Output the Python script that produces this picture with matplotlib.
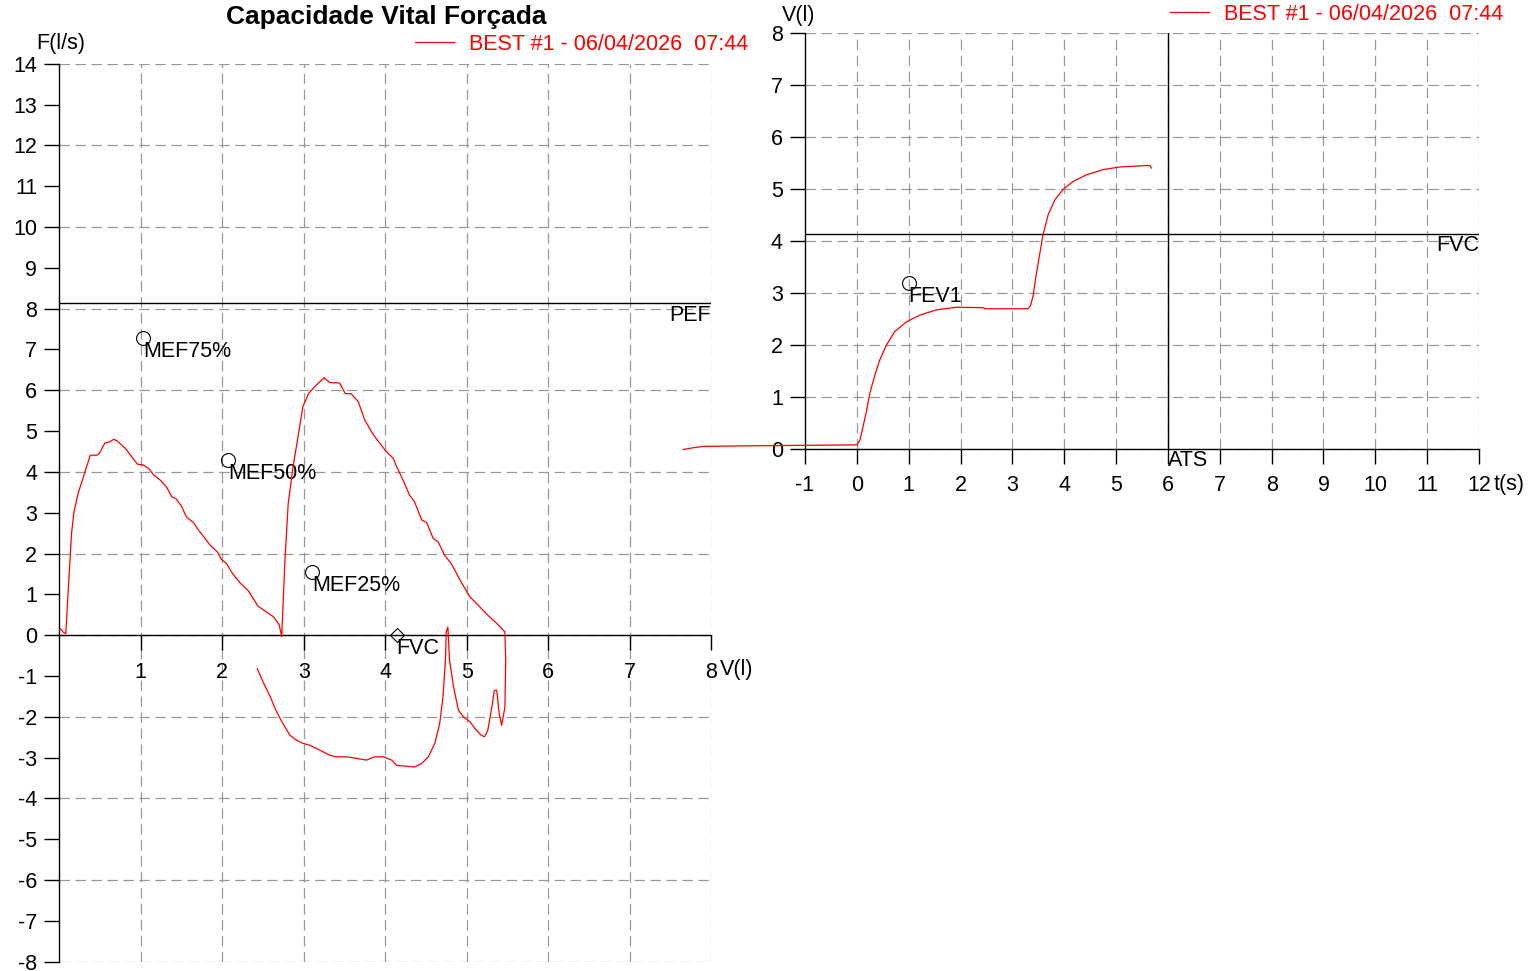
import numpy as np
import matplotlib
matplotlib.use("Agg")
import matplotlib.pyplot as plt
from matplotlib.lines import Line2D

plt.rcParams["font.family"] = ["Liberation Sans", "DejaVu Sans"]
plt.rcParams["lines.scale_dashes"] = False
plt.rcParams["axes.unicode_minus"] = False

W, H = 1535, 971

# flow-volume loop (left chart)
fv_volume = [0, 0.02, 0.05, 0.08, 0.11, 0.15, 0.18, 0.23, 0.29, 0.38, 0.46, 0.49, 0.56, 0.62, 0.67,
             0.71, 0.81, 0.89, 0.96, 1.03, 1.10, 1.16, 1.24, 1.32, 1.38, 1.43, 1.50, 1.56, 1.65, 1.71,
             1.79, 1.85, 1.94, 1.99, 2.05, 2.13, 2.22, 2.32, 2.38, 2.44, 2.52, 2.63, 2.70, 2.73,
             2.77, 2.81, 2.87, 2.93, 2.99, 3.06, 3.14, 3.20, 3.25, 3.32, 3.44, 3.51, 3.58, 3.67, 3.75,
             3.85, 4.00, 4.10, 4.14, 4.22, 4.30, 4.36, 4.45, 4.51, 4.59, 4.65, 4.73, 4.81, 4.92, 5.04,
             5.14, 5.26, 5.37, 5.47,
             5.48, 5.47, 5.43, 5.40, 5.37, 5.34, 5.31, 5.26, 5.22, 5.18, 5.12, 5.04, 4.96, 4.90, 4.84,
             4.79, 4.77, 4.75, 4.74, 4.71, 4.67, 4.61, 4.53, 4.45, 4.36, 4.26, 4.14, 4.08, 3.98, 3.87,
             3.77, 3.65, 3.53, 3.40, 3.32, 3.20, 3.08, 2.99, 2.91, 2.83, 2.77, 2.71, 2.65, 2.59, 2.50, 2.43]
fv_flow = [0.12, 0.15, 0.07, 0.04, 1.1, 2.49, 3.02, 3.47, 3.84, 4.41, 4.41, 4.45, 4.71, 4.74, 4.80,
           4.76, 4.58, 4.37, 4.19, 4.17, 4.08, 3.92, 3.80, 3.62, 3.39, 3.35, 3.16, 2.90, 2.75, 2.57,
           2.37, 2.21, 2.04, 1.86, 1.76, 1.50, 1.28, 1.09, 0.90, 0.71, 0.60, 0.45, 0.25, -0.04,
           1.84, 3.23, 4.13, 4.86, 5.60, 5.92, 6.10, 6.21, 6.31, 6.19, 6.18, 5.92, 5.92, 5.72, 5.27,
           4.93, 4.53, 4.33, 4.13, 3.80, 3.43, 3.27, 2.82, 2.76, 2.37, 2.29, 1.96, 1.76, 1.35, 0.94,
           0.74, 0.49, 0.29, 0.08,
           -0.61, -1.76, -2.21, -1.92, -1.35, -1.35, -1.76, -2.33, -2.49, -2.45, -2.33, -2.12, -2.0, -1.84, -1.27,
           -0.61, 0.20, 0.08, -0.61, -1.51, -2.16, -2.65, -2.98, -3.14, -3.23, -3.21, -3.19, -3.06, -2.98, -2.98,
           -3.06, -3.02, -2.98, -2.98, -2.94, -2.82, -2.70, -2.65, -2.57, -2.45, -2.25, -2.04, -1.80, -1.51, -1.14, -0.82]

# volume-time curve (right chart)
vt_time = [-3.35, -3.12, -2.96, -2.19, 0.0, 0.06, 0.12, 0.19, 0.25, 0.35, 0.44, 0.57, 0.73, 0.96,
           1.22, 1.54, 1.93, 2.44, 2.47, 3.30, 3.35, 3.40, 3.45, 3.52, 3.59, 3.69, 3.82, 3.98,
           4.17, 4.43, 4.75, 5.07, 5.46, 5.65, 5.68]
vt_volume = [-0.01, 0.03, 0.05, 0.06, 0.08, 0.17, 0.43, 0.75, 1.07, 1.43, 1.71, 2.00, 2.26, 2.45,
             2.58, 2.68, 2.73, 2.72, 2.70, 2.70, 2.76, 2.95, 3.30, 3.71, 4.12, 4.51, 4.80, 5.00,
             5.15, 5.28, 5.38, 5.43, 5.45, 5.46, 5.41]

# reference markers
mef_labels = ["MEF75%", "MEF50%", "MEF25%"]
mef_volume = [1.03, 2.07, 3.10]
mef_flow = [7.28, 4.29, 1.54]
pef = 8.15
fvc = 4.14
fev1 = (1.0, 3.2)
ats = 6

legend_label = "BEST #1 - 06/04/2026  07:44"
FS = 15.5
GRID = dict(color="#999999", lw=0.9, dashes=(7.5, 4), zorder=0)


def frac(x, y):
    return x / W, 1 - y / H


def style_axes(ax):
    for s in ("top", "right"):
        ax.spines[s].set_visible(False)
    ax.spines["bottom"].set_position(("data", 0))
    for s in ("left", "bottom"):
        ax.spines[s].set_linewidth(1)
        ax.spines[s].set_color("black")
        ax.spines[s].set_zorder(3)
    ax.tick_params(direction="out", length=10.5, width=1, labelsize=FS, color="black")
    ax.tick_params(axis="x", pad=8.5)
    ax.tick_params(axis="y", pad=5.5)
    ax.patch.set_alpha(0)


fig = plt.figure(figsize=(W / 100, H / 100), dpi=100)

# ---- left: flow-volume
ax1 = fig.add_axes([59.3 / W, 1 - 961.7 / H, (711 - 59.3) / W, (961.7 - 63.8) / H])
ax1.set_xlim(0, 8)
ax1.set_ylim(-8, 14)
style_axes(ax1)
ax1.set_xticks(range(1, 9))
ax1.set_yticks(range(-8, 15))
for v in range(1, 9):
    ax1.axvline(v, **GRID)
for f in range(-8, 15, 2):
    ax1.axhline(f, **GRID)
ax1.axhline(pef, color="black", lw=1, zorder=3)
ax1.annotate("PEF", (8, pef), xytext=(0, -2), textcoords="offset points",
             ha="right", va="top", fontsize=FS)
ax1.plot(fv_volume, fv_flow, color="red", lw=0.9, zorder=4)
ax1.plot(mef_volume, mef_flow, "o", ms=10, mfc="none", mec="black", mew=0.8, zorder=5)
for lab, v, f in zip(mef_labels, mef_volume, mef_flow):
    ax1.annotate(lab, (v, f), xytext=(0, -2), textcoords="offset points",
                 ha="left", va="top", fontsize=FS)
ax1.plot([fvc], [0], "D", ms=7, mfc="none", mec="black", mew=0.8, zorder=5)
ax1.annotate("FVC", (fvc, 0), xytext=(0, -2), textcoords="offset points",
             ha="left", va="top", fontsize=FS)

# ---- right: volume-time
ax2 = fig.add_axes([805 / W, 1 - 449 / H, (1479 - 805) / W, (449 - 33.5) / H])
ax2.set_xlim(-1, 12)
ax2.set_ylim(0, 8)
style_axes(ax2)
ax2.set_xticks(range(-1, 13))
ax2.set_yticks(range(0, 9))
for t in range(0, 13):
    ax2.axvline(t, **GRID)
for v in range(0, 9):
    ax2.axhline(v, **GRID)
ax2.axhline(fvc, color="black", lw=1, zorder=3)
ax2.annotate("FVC", (12, fvc), xytext=(0, -1), textcoords="offset points",
             ha="right", va="top", fontsize=FS)
ax2.axvline(ats, color="black", lw=1, zorder=3)
ax2.annotate("ATS", (ats, 0), xytext=(0, -1), textcoords="offset points",
             ha="left", va="top", fontsize=FS)
ax2.plot(vt_time, vt_volume, color="red", lw=0.9, zorder=4, clip_on=False)
ax2.plot([fev1[0]], [fev1[1]], "o", ms=10, mfc="none", mec="black", mew=0.8, zorder=5)
ax2.annotate("FEV1", fev1, xytext=(0, -2), textcoords="offset points",
             ha="left", va="top", fontsize=FS)

# axis names
fig.text(*frac(61, 44), "F(l/s)", ha="center", va="center", fontsize=FS)
fig.text(*frac(720, 670), "V(l)", ha="left", va="center", fontsize=FS)
fig.text(*frac(799, 15), "V(l)", ha="center", va="center", fontsize=FS)
fig.text(*frac(1494, 484), "t(s)", ha="left", va="center", fontsize=FS)

# title
fig.text(*frac(386, 17), "Capacidade Vital Forçada", ha="center", va="center",
         fontsize=19, fontweight="bold")

# legends
handle = [Line2D([], [], color="red", lw=0.9)]
for xr, yc in ((748, 44), (1503, 14)):
    fig.legend(handle, [legend_label], loc="center right", bbox_to_anchor=frac(xr, yc),
               frameon=False, fontsize=FS, labelcolor="red", handlelength=1.8,
               handletextpad=0.7, borderpad=0, borderaxespad=0)

fig.savefig("out.png", dpi=100)
